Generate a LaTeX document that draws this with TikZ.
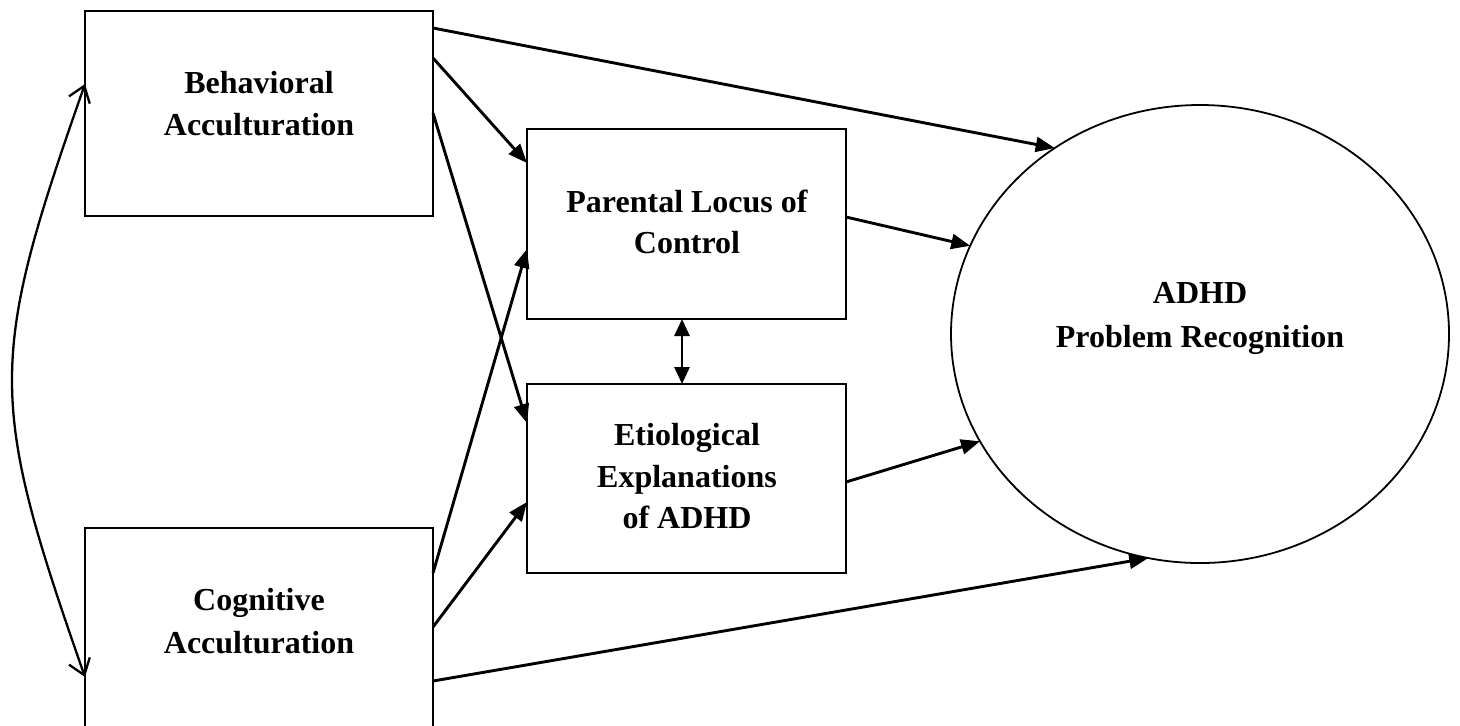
\documentclass[tikz,border=0pt]{standalone}
\usepackage{fontspec}
\setmainfont{Liberation Serif}
\usetikzlibrary{arrows.meta,calc,shapes.geometric}
\begin{document}
\begin{tikzpicture}[x=0.5pt,y=-0.5pt,
  box/.style={draw,line width=1.15pt,rectangle,inner sep=0pt,outer sep=0pt},
  lbl/.style={font=\fontsize{16}{20}\selectfont\bfseries,anchor=base,inner sep=0pt},
  conn/.style={line width=1.45pt,-{Triangle[length=9.5pt,width=7.5pt]}},
  dconn/.style={line width=1.45pt,{Triangle[length=8.5pt,width=7.5pt]}-{Triangle[length=8.5pt,width=7.5pt]}},
  corr/.style={line width=1.15pt,{Straight Barb[length=7.5pt,width=11pt]}-{Straight Barb[length=7.5pt,width=11pt]}}]
\useasboundingbox (0,0) rectangle (1460,725);
\clip (0,0) rectangle (1460,725);
% boxes
\node[box,minimum width=174pt,minimum height=102.5pt] (beh) at (259,113.5) {};
\node[box,minimum width=174pt,minimum height=102.5pt] (cog) at (259,630.5) {};
\node[box,minimum width=159.5pt,minimum height=95pt] (par) at (686.5,224) {};
\node[box,minimum width=159.5pt,minimum height=94.5pt] (eti) at (686.5,478.5) {};
\node[draw,ellipse,line width=0.9pt,inner sep=0pt,outer sep=0pt,minimum width=249pt,minimum height=229pt] (adhd) at (1200,334) {};
% texts
\node[lbl] (beh1) at (259,93) {Behavioral};
\node[lbl] (beh2) at (259,135) {Acculturation};
\node[lbl] (cog1) at (259,610) {Cognitive};
\node[lbl] (cog2) at (259,653) {Acculturation};
\node[lbl] (par1) at (687,212) {Parental Locus of};
\node[lbl] (par2) at (687,253) {Control};
\node[lbl] (eti1) at (687,445) {Etiological};
\node[lbl] (eti2) at (687,487) {Explanations};
\node[lbl] (eti3) at (687,528) {of ADHD};
\node[lbl] (adhd1) at (1200,303) {ADHD};
\node[lbl] (adhd2) at (1200,347) {Problem Recognition};
% connectors
\draw[conn] ($(beh.north east)+(0,17)$) -- (adhd.128.8);
\draw[conn] ($(beh.north east)+(0,47)$) -- ($(par.north west)+(0,34)$);
\draw[conn] ($(beh.north east)+(0,102)$) -- ($(eti.north west)+(0,39)$);
\draw[conn] ($(cog.north east)+(0,45)$) -- ($(par.north west)+(0,120)$);
\draw[conn] ($(cog.north east)+(0,99)$) -- ($(eti.north west)+(0,118)$);
\draw[conn] ($(cog.north east)+(0,153)$) -- (adhd.257);
\draw[conn] ($(par.north east)+(0,88)$) -- (adhd.159);
\draw[conn] ($(eti.north east)+(0,98)$) -- (adhd.206);
\draw[dconn] ($(par.south)+(-4.5,0)$) -- ($(eti.north)+(-4.5,0)$);
\draw[corr] ($(cog.north west)+(0,149)$) .. controls (-12,400) and (-12,360) .. ($(beh.north west)+(0,73)$);
\end{tikzpicture}
\end{document}
